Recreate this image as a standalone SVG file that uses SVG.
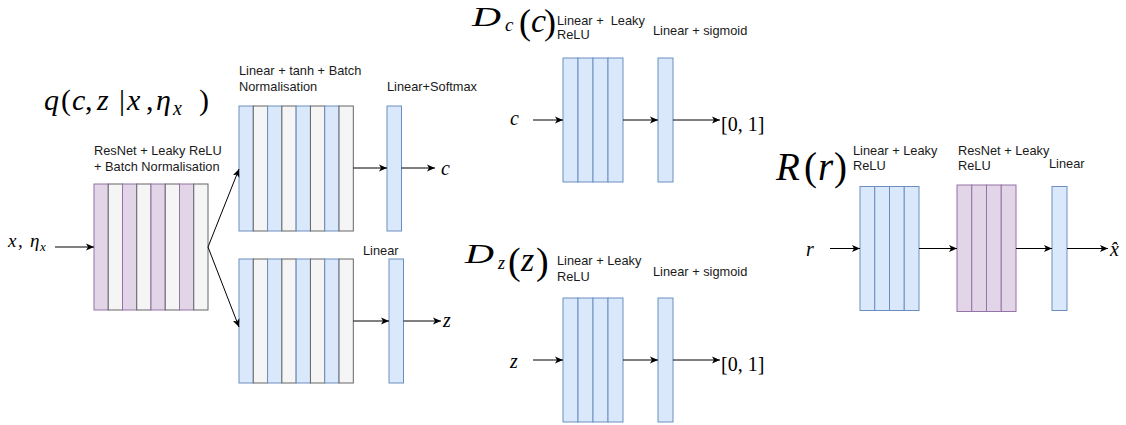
<svg xmlns="http://www.w3.org/2000/svg" width="1126" height="425" viewBox="0 0 1126 425">
  <defs>
    <marker id="arrow" markerWidth="10" markerHeight="8" refX="8" refY="4" orient="auto" markerUnits="userSpaceOnUse">
      <path d="M0,0.5 L8,4 L0,7.5 L2,4 Z" fill="#000"/>
    </marker>
  </defs>
  <style>
    .b{fill:#dae8fc;stroke:#6c8ebf;stroke-width:1}
    .g{fill:#f5f5f5;stroke:#666666;stroke-width:1}
    .p{fill:#e1d5e7;stroke:#9673a6;stroke-width:1}
    .lbl{font-family:"Liberation Sans",Arial,Helvetica,sans-serif;font-size:12.8px;fill:#1a1a1a}
    .m{font-family:"Liberation Serif","Times New Roman",serif;font-style:italic;fill:#000}
    .u{font-style:normal}
    .e{fill:none;stroke:#000;stroke-width:1;marker-end:url(#arrow)}
  </style>
  <rect width="1126" height="425" fill="#fff"/>

  <!-- Encoder q(c,z|x,eta_x) -->
  <g id="q-title">
    <text class="m" y="110" font-size="30"><tspan x="44">q</tspan><tspan class="u" x="61">(</tspan><tspan x="72">c</tspan><tspan class="u" x="85">,</tspan><tspan x="97">z</tspan><tspan class="u" x="119">|</tspan><tspan x="127">x</tspan><tspan class="u" x="146">,</tspan><tspan x="156">η</tspan><tspan x="173" dy="5" font-size="20">x</tspan><tspan class="u" x="199" dy="-5">)</tspan></text>
  </g>
  <g id="input-x">
    <text class="m" y="247" font-size="19"><tspan x="8">x</tspan><tspan class="u" x="18">,</tspan><tspan x="30">η</tspan><tspan x="40" dy="4" font-size="13">x</tspan></text>
  </g>
  <g id="resnet-block">
    <rect class="p" x="94" y="184" width="14.25" height="126"/>
    <rect class="g" x="108.25" y="184" width="14.25" height="126"/>
    <rect class="p" x="122.5" y="184" width="14.25" height="126"/>
    <rect class="g" x="136.75" y="184" width="14.25" height="126"/>
    <rect class="p" x="151" y="184" width="14.25" height="126"/>
    <rect class="g" x="165.25" y="184" width="14.25" height="126"/>
    <rect class="p" x="179.5" y="184" width="14.25" height="126"/>
    <rect class="g" x="193.75" y="184" width="14.25" height="126"/>
    <text class="lbl" x="94" y="155">ResNet + Leaky ReLU</text>
    <text class="lbl" x="94" y="171">+ Batch Normalisation</text>
  </g>
  <g id="tanh-block-c">
    <rect class="b" x="239" y="106" width="14.29" height="125"/>
    <rect class="g" x="253.29" y="106" width="14.29" height="125"/>
    <rect class="b" x="267.58" y="106" width="14.29" height="125"/>
    <rect class="g" x="281.87" y="106" width="14.29" height="125"/>
    <rect class="b" x="296.16" y="106" width="14.29" height="125"/>
    <rect class="g" x="310.45" y="106" width="14.29" height="125"/>
    <rect class="b" x="324.74" y="106" width="14.29" height="125"/>
    <rect class="g" x="339.03" y="106" width="14.29" height="125"/>
    <text class="lbl" x="239" y="74.5">Linear + tanh + Batch</text>
    <text class="lbl" x="239" y="91">Normalisation</text>
  </g>
  <g id="softmax-layer">
    <rect class="b" x="387" y="106" width="14.5" height="125"/>
    <text class="lbl" x="387" y="90.5">Linear+Softmax</text>
  </g>
  <g id="out-c">
    <text class="m" x="441" y="175" font-size="20">c</text>
  </g>
  <g id="tanh-block-z">
    <rect class="b" x="239" y="259" width="14.29" height="124"/>
    <rect class="g" x="253.29" y="259" width="14.29" height="124"/>
    <rect class="b" x="267.58" y="259" width="14.29" height="124"/>
    <rect class="g" x="281.87" y="259" width="14.29" height="124"/>
    <rect class="b" x="296.16" y="259" width="14.29" height="124"/>
    <rect class="g" x="310.45" y="259" width="14.29" height="124"/>
    <rect class="b" x="324.74" y="259" width="14.29" height="124"/>
    <rect class="g" x="339.03" y="259" width="14.29" height="124"/>
  </g>
  <g id="linear-layer-z">
    <rect class="b" x="389" y="259" width="14.5" height="124"/>
    <text class="lbl" x="363" y="254.5">Linear</text>
  </g>
  <g id="out-z">
    <text class="m" x="443" y="327" font-size="20">z</text>
  </g>

  <!-- Discriminator D_c(c) -->
  <g id="dc-title">
    <text class="m" x="472" y="26" font-size="28" textLength="29" lengthAdjust="spacingAndGlyphs">D</text>
    <text class="m" x="505" y="31" font-size="19">c</text>
    <text class="m" y="34" font-size="36"><tspan class="u" x="519">(</tspan><tspan x="531" y="32" font-size="34">c</tspan><tspan class="u" x="544" y="34">)</tspan></text>
  </g>
  <g id="dc-in">
    <text class="m" x="510" y="125" font-size="20">c</text>
  </g>
  <g id="dc-hidden">
    <rect class="b" x="563" y="58" width="15" height="124"/>
    <rect class="b" x="578" y="58" width="15" height="124"/>
    <rect class="b" x="593" y="58" width="15" height="124"/>
    <rect class="b" x="608" y="58" width="15" height="124"/>
    <text class="lbl" x="557" y="24.5" xml:space="preserve">Linear +  Leaky</text>
    <text class="lbl" x="557" y="38.5">ReLU</text>
  </g>
  <g id="dc-sigmoid">
    <rect class="b" x="658" y="58" width="15" height="124"/>
    <text class="lbl" x="653" y="34.5">Linear + sigmoid</text>
  </g>
  <g id="dc-out">
    <text class="m u" x="721" y="131" font-size="20">[0, 1]</text>
  </g>

  <!-- Discriminator D_z(z) -->
  <g id="dz-title">
    <text class="m" x="465" y="263" font-size="27" textLength="29" lengthAdjust="spacingAndGlyphs">D</text>
    <text class="m" x="498" y="269" font-size="18">z</text>
    <text class="m" y="274" font-size="38"><tspan class="u" x="508">(</tspan><tspan x="521" y="271" font-size="34">z</tspan><tspan class="u" x="536" y="274">)</tspan></text>
  </g>
  <g id="dz-in">
    <text class="m" x="510" y="368" font-size="20">z</text>
  </g>
  <g id="dz-hidden">
    <rect class="b" x="563" y="298" width="15" height="124"/>
    <rect class="b" x="578" y="298" width="15" height="124"/>
    <rect class="b" x="593" y="298" width="15" height="124"/>
    <rect class="b" x="608" y="298" width="15" height="124"/>
    <text class="lbl" x="557" y="265">Linear + Leaky</text>
    <text class="lbl" x="557" y="280.5">ReLU</text>
  </g>
  <g id="dz-sigmoid">
    <rect class="b" x="658" y="298" width="15" height="124"/>
    <text class="lbl" x="653" y="276">Linear + sigmoid</text>
  </g>
  <g id="dz-out">
    <text class="m u" x="721" y="371" font-size="20">[0, 1]</text>
  </g>

  <!-- Reconstruction R(r) -->
  <g id="r-title">
    <text class="m" y="180" font-size="39"><tspan x="776">R</tspan><tspan class="u" x="804">(</tspan><tspan x="818">r</tspan><tspan class="u" x="834">)</tspan></text>
  </g>
  <g id="r-in">
    <text class="m" x="806" y="256" font-size="20">r</text>
  </g>
  <g id="r-linear">
    <rect class="b" x="860" y="186.5" width="14.75" height="124"/>
    <rect class="b" x="874.75" y="186.5" width="14.75" height="124"/>
    <rect class="b" x="889.5" y="186.5" width="14.75" height="124"/>
    <rect class="b" x="904.25" y="186.5" width="14.75" height="124"/>
    <text class="lbl" x="853" y="154.5">Linear + Leaky</text>
    <text class="lbl" x="853" y="169.5">ReLU</text>
  </g>
  <g id="r-resnet">
    <rect class="p" x="957" y="185" width="14.75" height="126.5"/>
    <rect class="p" x="971.75" y="185" width="14.75" height="126.5"/>
    <rect class="p" x="986.5" y="185" width="14.75" height="126.5"/>
    <rect class="p" x="1001.25" y="185" width="14.75" height="126.5"/>
    <text class="lbl" x="958" y="154.5">ResNet + Leaky</text>
    <text class="lbl" x="958" y="169.5">ReLU</text>
  </g>
  <g id="r-out-layer">
    <rect class="b" x="1052" y="186.5" width="15" height="124"/>
    <text class="lbl" x="1049" y="168">Linear</text>
  </g>
  <g id="r-out">
    <text class="m" x="1110" y="256" font-size="20">x̂</text>
  </g>

  <!-- connectors -->
  <g id="connectors">
    <path class="e" d="M55,247 H94"/>
    <path class="e" d="M208,247 L239,169"/>
    <path class="e" d="M208,247 L239,327"/>
    <path class="e" d="M353.3,168 H387"/>
    <path class="e" d="M401.5,168 H435"/>
    <path class="e" d="M353.3,321 H389"/>
    <path class="e" d="M403.5,321 H441"/>
    <path class="e" d="M533,120 H563"/>
    <path class="e" d="M623,120 H658"/>
    <path class="e" d="M673,120 H720"/>
    <path class="e" d="M533,360 H563"/>
    <path class="e" d="M623,360 H658"/>
    <path class="e" d="M673,360 H720"/>
    <path class="e" d="M830,248.5 H860"/>
    <path class="e" d="M919,248.5 H957"/>
    <path class="e" d="M1016,248.5 H1052"/>
    <path class="e" d="M1067,248.5 H1108"/>
  </g>
</svg>
